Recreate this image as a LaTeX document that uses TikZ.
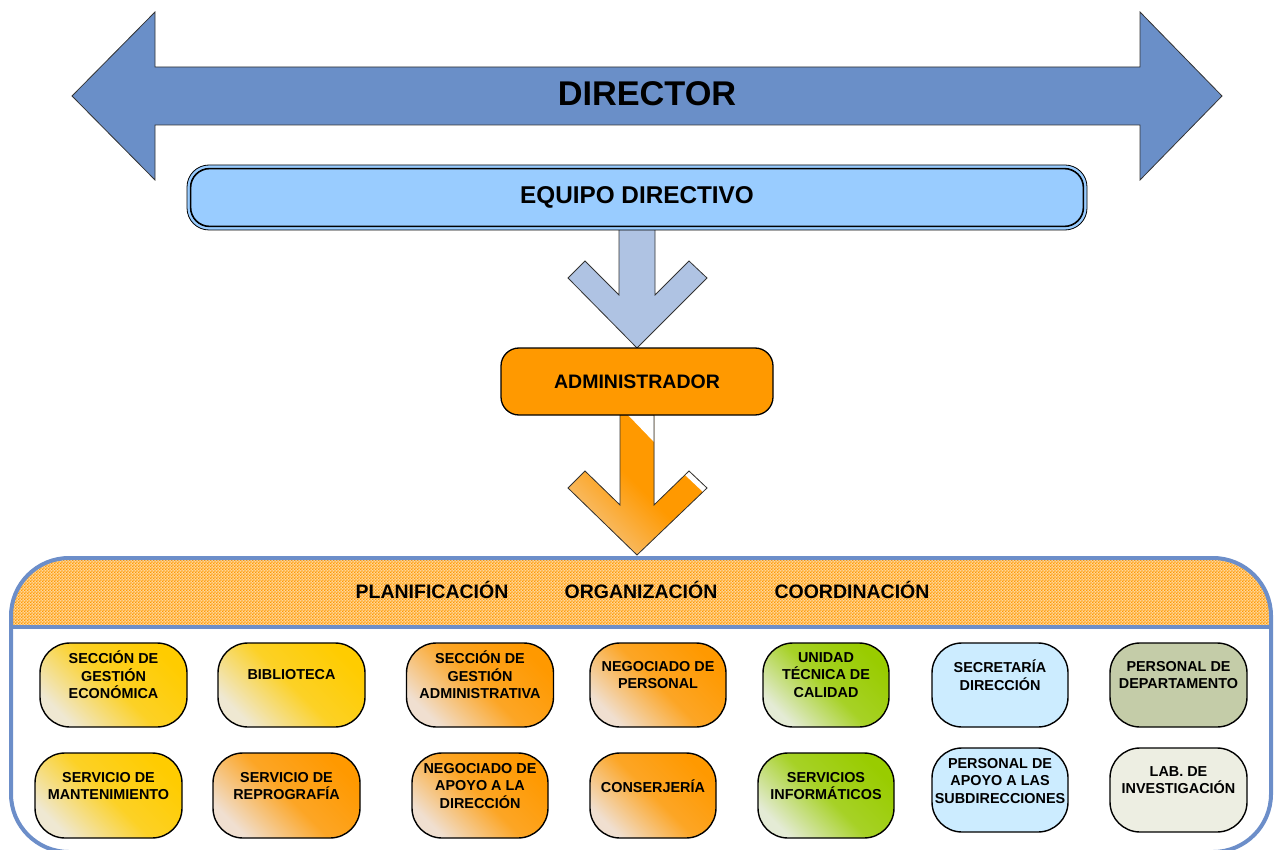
\documentclass[tikz,border=0pt]{standalone}
\usepackage{fontspec}
\setmainfont{Liberation Sans}
\usetikzlibrary{patterns}
\pgfdeclarepatternformonly{finechecker}{\pgfpointorigin}{\pgfqpoint{3.2pt}{3.2pt}}{\pgfqpoint{3.2pt}{3.2pt}}{%
  \pgfpathrectangle{\pgfpointorigin}{\pgfqpoint{1.6pt}{1.6pt}}%
  \pgfpathrectangle{\pgfqpoint{1.6pt}{1.6pt}}{\pgfqpoint{1.6pt}{1.6pt}}%
  \pgfusepath{fill}}
\definecolor{dirblue}{HTML}{6A8FC8}
\definecolor{arrblue}{HTML}{AFC3E3}
\definecolor{eqblue}{HTML}{99CCFF}
\definecolor{cOr}{HTML}{FF9900}
\definecolor{cOrL}{HTML}{F0DFD0}
\definecolor{cYel}{HTML}{FFCC00}
\definecolor{cYelL}{HTML}{EFE8D2}
\definecolor{cGrn}{HTML}{99CC00}
\definecolor{cGrnL}{HTML}{E4EBD5}
\definecolor{cLBlue}{HTML}{CCECFF}
\definecolor{cOlive}{HTML}{C4CCA8}
\definecolor{cLab}{HTML}{EDEEE2}
\definecolor{frame}{HTML}{6C8EC9}
\begin{document}
\begin{tikzpicture}[x=1pt,y=-1pt,
  unit/.style={draw=black, line width=1.4pt, rounded corners=30pt, inner sep=0pt},
  yel/.style={top color=cYel, bottom color=cYelL, middle color=cYel!82!cYelL, shading angle=-45},
  ora/.style={top color=cOr, bottom color=cOrL, middle color=cOr!82!cOrL, shading angle=-45},
  grn/.style={top color=cGrn, bottom color=cGrnL, middle color=cGrn!82!cGrnL, shading angle=-45},
  lbl/.style={font=\bfseries\fontsize{14.4}{17.5}\selectfont, align=center, inner sep=0pt},
  bandtxt/.style={font=\bfseries\fontsize{19.5}{22}\selectfont, inner sep=0pt},
  shapeline/.style={draw=black!80, line width=0.8pt}
]
\useasboundingbox (0,0) rectangle (1276,850);

% DIRECTOR double arrow
\filldraw[fill=dirblue, shapeline]
  (72,96) -- (155,12) -- (155,67) -- (1140,67) -- (1140,12) -- (1222,96)
  -- (1140,180) -- (1140,125) -- (155,125) -- (155,180) -- cycle;
\node[font=\bfseries\fontsize{34.3}{38}\selectfont, inner sep=0pt] (dir) at (647,94) {DIRECTOR};

% blue down arrow
\filldraw[fill=arrblue, shapeline]
  (619,229) -- (655,229) -- (655,295) -- (689,261) -- (707,278) -- (637,348)
  -- (568,278) -- (585,261) -- (619,295) -- cycle;

% EQUIPO DIRECTIVO
\node[draw=black, line width=0.8pt, fill=eqblue, rounded corners=22pt,
  minimum width=900pt, minimum height=65pt, inner sep=0pt,
  font=\bfseries\fontsize{24.3}{28}\selectfont] (eq) at (637,197.5) {EQUIPO DIRECTIVO};
\draw[line width=1.6pt, rounded corners=19pt]
  ([shift={(4,4)}]eq.north west) rectangle ([shift={(-4,-4)}]eq.south east);

% orange down arrow
\fill[top color=cOr, bottom color=cOrL!60!cOr, middle color=cOr, shading angle=-45]
  (620,415) -- (654,415) -- (654,505) -- (689,471) -- (707,488) -- (637,555)
  -- (568,488) -- (585,471) -- (620,505) -- cycle;
\fill[white] (628,415) -- (654,415) -- (654,442) -- cycle;
\fill[white] (689,471) -- (707,488) -- (703,492) -- (685,475) -- cycle;
\draw[shapeline]
  (620,415) -- (654,415) -- (654,505) -- (689,471) -- (707,488) -- (637,555)
  -- (568,488) -- (585,471) -- (620,505) -- cycle;

% ADMINISTRADOR
\node[draw=black, line width=1.3pt, fill=cOr, rounded corners=18pt,
  minimum width=272pt, minimum height=67pt, inner sep=0pt,
  font=\bfseries\fontsize{19.5}{22}\selectfont] (adm) at (637,381.5) {ADMINISTRADOR};

% container
\begin{scope}
  \clip[rounded corners=58pt] (11,558) rectangle (1271,852);
  \fill[cOr!40] (0,550) rectangle (1276,627);
  \fill[pattern=finechecker, pattern color=cOr] (0,550) rectangle (1276,627);
\end{scope}
\draw[frame, line width=4pt] (11,626.5) -- (1271,626.5);
\draw[frame, line width=4pt, rounded corners=58pt] (11,558) rectangle (1271,852);

\node[bandtxt] (pl) at (432,590) {PLANIFICACIÓN};
\node[bandtxt] (or) at (641,590) {ORGANIZACIÓN};
\node[bandtxt] (co) at (852,590) {COORDINACIÓN};

% row 1
\node[unit, yel, minimum width=147pt, minimum height=84pt] (b11) at (113.5,685) {};
\node[lbl] (t11) at (113.5,675) {SECCIÓN DE\\GESTIÓN\\ECONÓMICA};
\node[unit, yel, minimum width=147pt, minimum height=84pt] (b12) at (291.5,685) {};
\node[lbl] (t12) at (291.5,675) {BIBLIOTECA};
\node[unit, ora, minimum width=147pt, minimum height=84pt] (b13) at (480,685) {};
\node[lbl] (t13) at (480,675) {SECCIÓN DE\\GESTIÓN\\ADMINISTRATIVA};
\node[unit, ora, minimum width=136pt, minimum height=84pt] (b14) at (658,685) {};
\node[lbl] (t14) at (658,675) {NEGOCIADO DE\\PERSONAL};
\node[unit, grn, minimum width=126pt, minimum height=84pt] (b15) at (826,685) {};
\node[lbl] (t15) at (826,675) {UNIDAD\\TÉCNICA DE\\CALIDAD};
\node[unit, fill=cLBlue, minimum width=136pt, minimum height=84pt] (b16) at (1000,685) {};
\node[lbl] (t16) at (1000,675) {SECRETARÍA\\DIRECCIÓN};
\node[unit, fill=cOlive, minimum width=137pt, minimum height=84pt] (b17) at (1178.5,685) {};
\node[lbl] (t17) at (1178.5,675) {PERSONAL DE\\DEPARTAMENTO};

% row 2
\node[unit, yel, minimum width=147pt, minimum height=85pt] (b21) at (108.5,795.5) {};
\node[lbl] (t21) at (108.5,786) {SERVICIO DE\\MANTENIMIENTO};
\node[unit, ora, minimum width=147pt, minimum height=85pt] (b22) at (286.5,795.5) {};
\node[lbl] (t22) at (286.5,786) {SERVICIO DE\\REPROGRAFÍA};
\node[unit, ora, minimum width=136pt, minimum height=85pt] (b23) at (480,795.5) {};
\node[lbl] (t23) at (480,786) {NEGOCIADO DE\\APOYO A LA\\DIRECCIÓN};
\node[unit, ora, minimum width=126pt, minimum height=85pt] (b24) at (653,795.5) {};
\node[lbl] (t24) at (653,786) {CONSERJERÍA};
\node[unit, grn, minimum width=136pt, minimum height=85pt] (b25) at (826,795.5) {};
\node[lbl] (t25) at (826,786) {SERVICIOS\\INFORMÁTICOS};
\node[unit, fill=cLBlue, minimum width=136pt, minimum height=84pt] (b26) at (1000,790) {};
\node[lbl] (t26) at (1000,781) {PERSONAL DE\\APOYO A LAS\\SUBDIRECCIONES};
\node[unit, fill=cLab, minimum width=137pt, minimum height=84pt] (b27) at (1178.5,790) {};
\node[lbl] (t27) at (1178.5,780) {LAB. DE\\INVESTIGACIÓN};
\end{tikzpicture}
\end{document}
